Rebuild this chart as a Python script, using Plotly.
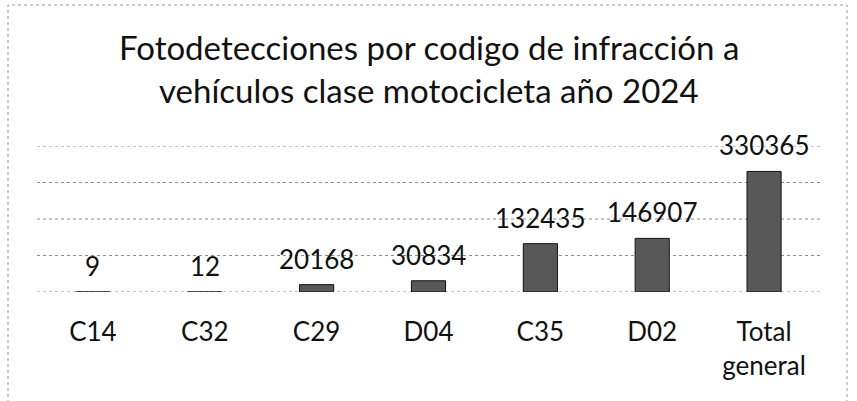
import plotly.graph_objects as go

categories = ["C14", "C32", "C29", "D04", "C35", "D02", "Total<br>general"]
values = [9, 12, 20168, 30834, 132435, 146907, 330365]
value_labels = ["9", "12", "20168", "30834", "132435", "146907", "330365"]
grid_values = [0, 100000, 200000, 300000, 400000]
title_lines = ["Fotodetecciones por codigo de infracción a",
               "vehículos clase motocicleta año 2024"]

FONT = "Lato, 'Open Sans', sans-serif"
W, H = 857, 401
ML, MR, MT, MB = 37, 37, 146, 109
PW = W - ML - MR
PH = H - MT - MB

fig = go.Figure()
fig.add_trace(go.Bar(
    x=categories, y=values,
    marker=dict(color="#585858", line=dict(color="#111111", width=1)),
    hoverinfo="skip",
))

annotations = []
for c, v, t in zip(categories, values, value_labels):
    annotations.append(dict(x=c, y=v, xref="x", yref="y", text=t, showarrow=False,
                            yanchor="bottom", yshift=8,
                            font=dict(family=FONT, size=26, color="#111111")))

def px_x(px):
    return (px - ML) / PW

def px_y(py):
    return (MT + PH - py) / PH

# title lines
for i, line in enumerate(title_lines):
    yc = [46.5, 90.5][i]
    annotations.append(dict(x=0.5, xref="paper", y=px_y(yc), yref="paper",
                            text=line, showarrow=False, yanchor="middle", xanchor="center",
                            font=dict(family=FONT, size=33, color="#111111")))

shapes = [dict(type="rect", xref="paper", yref="paper",
               x0=px_x(8), x1=px_x(847), y0=px_y(410), y1=px_y(5),
               line=dict(color="#9a9a9a", width=1, dash="dot"), layer="below")]
for g in grid_values:
    shapes.append(dict(type="line", xref="paper", yref="y", x0=0, x1=1, y0=g, y1=g,
                       line=dict(color="#8a8a8a", width=1, dash="dot"), layer="below"))

fig.update_layout(
    width=W, height=H,
    margin=dict(l=ML, r=MR, t=MT, b=MB),
    paper_bgcolor="white", plot_bgcolor="white",
    bargap=0.695,
    showlegend=False,
    annotations=annotations,
    shapes=shapes,
    xaxis=dict(showline=False, showgrid=False, zeroline=False,
               ticks="outside", ticklen=17, tickcolor="rgba(0,0,0,0)",
               tickfont=dict(family=FONT, size=26, color="#111111")),
    yaxis=dict(range=[0, 400000], showticklabels=False,
               showgrid=False, zeroline=False, showline=False),
)

fig.write_html("out.html", config={"displayModeBar": False},
               post_script="document.body.style.margin='0';")
